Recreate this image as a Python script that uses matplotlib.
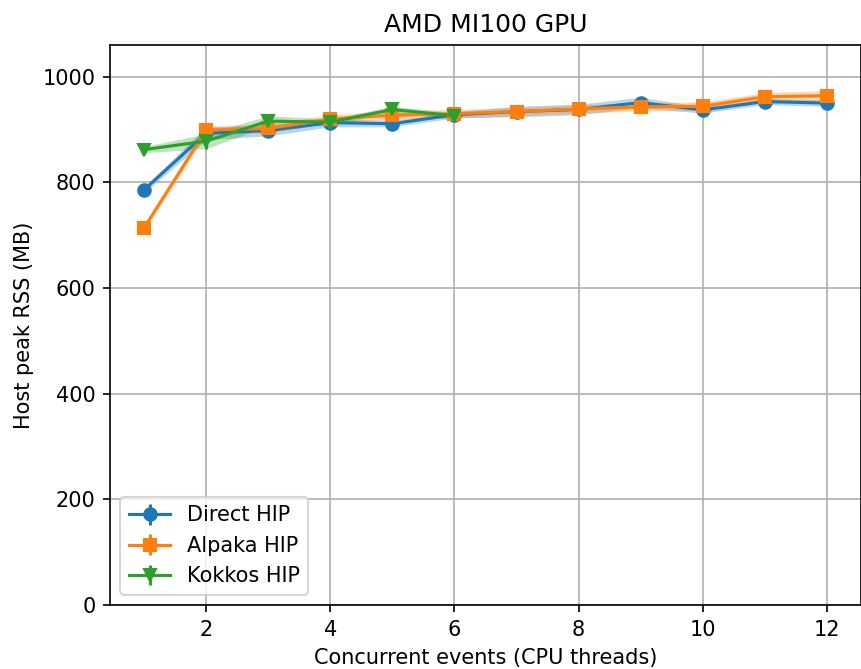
import numpy as np
import matplotlib
matplotlib.use("Agg")
import matplotlib.pyplot as plt

# Concurrent events (CPU threads)
threads = [1, 2, 3, 4, 5, 6, 7, 8, 9, 10, 11, 12]
threads_kokkos = [1, 2, 3, 4, 5, 6]

# host peak RSS (MB), mean and spread
direct_rss = [786, 893, 898, 913, 911, 928, 934, 938, 951, 937, 953, 950]
direct_err = [6, 12, 10, 8, 6, 6, 10, 10, 10, 6, 6, 6]
alpaka_rss = [714, 899, 902, 920, 927, 930, 934, 939, 943, 944, 962, 964]
alpaka_err = [6, 8, 8, 8, 8, 8, 8, 8, 8, 8, 8, 10]
kokkos_rss = [862, 878, 916, 914, 938, 926]
kokkos_err = [6, 14, 10, 6, 6, 6]

series = [
    ("Direct HIP", threads, direct_rss, direct_err, "o", "tab:blue"),
    ("Alpaka HIP", threads, alpaka_rss, alpaka_err, "s", "tab:orange"),
    ("Kokkos HIP", threads_kokkos, kokkos_rss, kokkos_err, "v", "tab:green"),
]

# plotted at 150 dpi with default sizes, like the original
fig = plt.figure(figsize=(861 / 150, 669 / 150), dpi=150)
ax = fig.add_axes([110 / 861, 64 / 669, 751 / 861, 560 / 669])

for name, xs, ys, es, mk, col in series:
    xs = np.array(xs)
    ys = np.array(ys)
    es = np.array(es)
    ax.fill_between(xs, ys - es, ys + es, color=col, alpha=0.3, linewidth=0)
    ax.errorbar(xs, ys, yerr=es, marker=mk, color=col, label=name)

ax.set_xlim(0.45, 12.55)
ax.set_ylim(0, 1060)
ax.set_xticks([2, 4, 6, 8, 10, 12])
ax.set_yticks([0, 200, 400, 600, 800, 1000])
ax.grid(True)
ax.set_title("AMD MI100 GPU")
ax.set_xlabel("Concurrent events (CPU threads)")
ax.set_ylabel("Host peak RSS (MB)")
ax.legend(loc="lower left")

fig.savefig("out.png", dpi=150)
